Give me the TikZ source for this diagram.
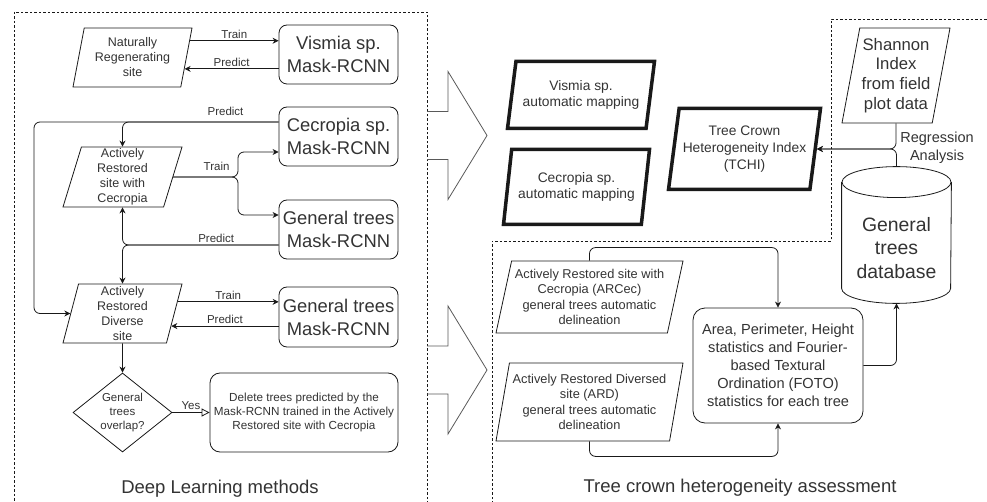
\documentclass[tikz,border=0pt]{standalone}
\usepackage{fontspec}
\setmainfont{Liberation Sans}
\usetikzlibrary{arrows.meta,shapes.geometric,calc,positioning}

\newcommand{\fsz}[2]{\fontsize{#1}{#2}\selectfont}

\begin{document}
\begin{tikzpicture}[x=1pt, y=-1pt, line width=0.8pt, color=black!90, text=black!80,
  arr/.style={-{Stealth[length=6pt,width=6pt]}},
  lbl/.style={font=\fsz{11.5}{13}, inner sep=2pt},
  para/.style={trapezium, draw, trapezium left angle=#1, trapezium right angle={180-#1},
    trapezium stretches body, align=center, inner sep=1pt},
  para/.default=74,
  site/.style={para=#1, font=\fsz{12.5}{15}, minimum width=119, minimum height=59, inner sep=0pt},
  site/.default=74,
  mapping/.style={para=#1, line width=3.5pt, font=\fsz{13.8}{16.7}},
  netbox/.style={draw, rounded corners=8pt, align=center, minimum width=119,
    minimum height=59, font=\fsz{18.4}{23}},
  region/.style={dash pattern=on 2.5pt off 2pt, line width=0.7pt},
  blockarrow/.style={draw=black!65, line width=0.8pt},
  title/.style={font=\fsz{18.5}{22}}]
  \useasboundingbox (0,0) rectangle (987,502);

  % regions
  \draw[region] (14,12) rectangle (427,508);
  \draw[region] (492,508) -- (492,241) -- (831,241) -- (831,19) -- (992,19);

  % block arrows between the regions
  \foreach \cy in {135.5,370} {
    \draw[blockarrow] (427,\cy-24) -- (448,\cy-24) -- (448,\cy-64) -- (487,\cy)
      -- (448,\cy+64) -- (448,\cy+24) -- (427,\cy+24);
  }

  % deep learning methods
  \node[site] (nat) at (132.5,57.5) {Naturally\\Regenerating\\site};
  \node[netbox] (vis) at (338.5,54.5) {Vismia sp.\\Mask-RCNN};
  \node[netbox] (cec) at (338.5,136.5) {Cecropia sp.\\Mask-RCNN};
  \node[site=72, minimum height=60] (arc) at (122.5,177) {Actively\\Restored\\site with\\Cecropia};
  \node[netbox] (gta) at (338.5,229.5) {General trees\\Mask-RCNN};
  \node[site] (ard) at (122.5,313.5) {Actively\\Restored\\Diverse\\site};
  \node[netbox, minimum height=60] (gtb) at (338.5,317) {General trees\\Mask-RCNN};
  \node[draw, diamond, aspect=1.25, inner sep=0pt, minimum width=99, minimum height=79,
    align=center, font=\fsz{11.5}{14}] (dia) at (122.5,412.5) {General\\trees\\overlap?};
  \node[draw, rounded corners=10pt, minimum width=188, minimum height=79, align=center,
    font=\fsz{11.7}{14.2}] (del) at (304,412.5)
    {Delete trees predicted by the\\Mask-RCNN trained in the Actively\\Restored site with Cecropia};
  \node[title] (dlm) at (220,489) {Deep Learning methods};

  \coordinate (loopx) at (34,0);
  \coordinate (trx) at (238,0);
  \coordinate (natT) at ($(nat.top right corner)!0.22!(nat.bottom right corner)$);
  \coordinate (natP) at ($(nat.top right corner)!0.69!(nat.bottom right corner)$);
  \coordinate (cecP) at ($(cec.west)+(0,-14.5)$);
  \coordinate (gtaP) at ($(gta.west)+(0,15.5)$);
  \coordinate (ardT) at ($(ard.top right corner)!0.305!(ard.bottom right corner)$);
  \coordinate (ardP) at ($(ard.top right corner)!0.71!(ard.bottom right corner)$);

  \draw[arr] (natT) -- (natT -| vis.west) node[lbl, midway, above] {Train};
  \draw[arr] (natP -| vis.west) -- (natP) node[lbl, midway, above] {Predict};
  \draw[arr, rounded corners=6pt] (cecP) -| (arc.north) node[lbl, pos=0.17, above=4pt] {Predict};
  \draw[arr, rounded corners=6pt] (cecP) -- (cecP -| loopx) |- (ard.left side);
  \draw[arr, rounded corners=6pt] (arc.right side) -- (arc.right side -| trx)
    node[lbl, pos=0.67, above=4pt] {Train} |- ($(cec.west)+(0,15.5)$);
  \draw[arr, rounded corners=6pt] (arc.right side) -- (arc.right side -| trx)
    |- ($(gta.west)+(0,-14.5)$);
  \draw[arr, rounded corners=6pt] (gtaP) -| (arc.south) node[lbl, pos=0.2, above] {Predict};
  \draw[arr, rounded corners=6pt] (gtaP) -| (ard.north);
  \draw[arr] (ardT) -- (ardT -| gtb.west) node[lbl, midway, above] {Train};
  \draw[arr] (ardP -| gtb.west) -- (ardP) node[lbl, midway, above] {Predict};
  \draw[arr] (ard.south) -- (dia.north);
  \draw[-{Triangle[open,length=8pt,width=8pt]}] (dia.east) -- (del.west)
    node[lbl, midway, above] {Yes};

  % tree crown heterogeneity
  \node[mapping=75, minimum width=147, minimum height=67] (vmap) at (581,95)
    {Vismia sp.\\automatic mapping};
  \node[mapping=75.5, minimum width=146, minimum height=75] (cmap) at (576.5,187)
    {Cecropia sp.\\automatic mapping};
  \node[mapping=77.5, minimum width=152, minimum height=81] (tchi) at (744.5,149)
    {Tree Crown\\Heterogeneity Index\\(TCHI)};
  \node[para=77, minimum width=108, minimum height=95, font=\fsz{16.7}{19.8}] (shan)
    at (896,75.5) {Shannon\\Index\\from field\\plot data};
  \node[inner sep=0pt, minimum width=109, minimum height=136] (db) at (896.5,235) {};
  \node[align=center, font=\fsz{19.4}{23.5}] (dbtxt) at (896.5,248) {General\\trees\\database};
  \draw ([yshift=-15.5pt]db.north west) -- ([yshift=15pt]db.south west)
    arc[start angle=180, end angle=360, x radius=54.5pt, y radius=15pt]
    -- ([yshift=-15.5pt]db.north east);
  \draw ([yshift=-15.5pt]db.north) ellipse [x radius=54.5pt, y radius=15.5pt];
  \node[align=center, font=\fsz{14.5}{17.5}] (reg) at (937,148) {Regression\\Analysis};

  \node[para=75, minimum width=187, minimum height=72, font=\fsz{12.8}{15.6}] (arcec)
    at (589.5,297) {Actively Restored site with\\Cecropia (ARCec)\\general trees automatic\\delineation};
  \node[para=77, minimum width=187, minimum height=78, font=\fsz{12.8}{15.6}] (ardd)
    at (589.5,402) {Actively Restored Diversed\\site (ARD)\\general trees automatic\\delineation};
  \node[draw, rounded corners=12pt, minimum width=170, minimum height=115, align=center,
    font=\fsz{14.6}{18}] (stat) at (778,365.5)
    {Area, Perimeter, Height\\statistics and Fourier-\\based Textural\\Ordination (FOTO)\\statistics for each tree};
  \node[title] (tcha) at (740,488) {Tree crown heterogeneity assessment};

  \draw[arr, rounded corners=6pt] (shan.south) |- (tchi.right side);
  \draw[arr, rounded corners=6pt] (db.north) |- (tchi.right side);
  \draw[arr, rounded corners=6pt] (arcec.north) -- ++(0,-13) -| (stat.north);
  \draw[arr, rounded corners=6pt] (ardd.south) -- ++(0,15) -| (stat.south);
  \draw[arr, rounded corners=6pt] (stat.east) -| (db.south);
\end{tikzpicture}
\end{document}
